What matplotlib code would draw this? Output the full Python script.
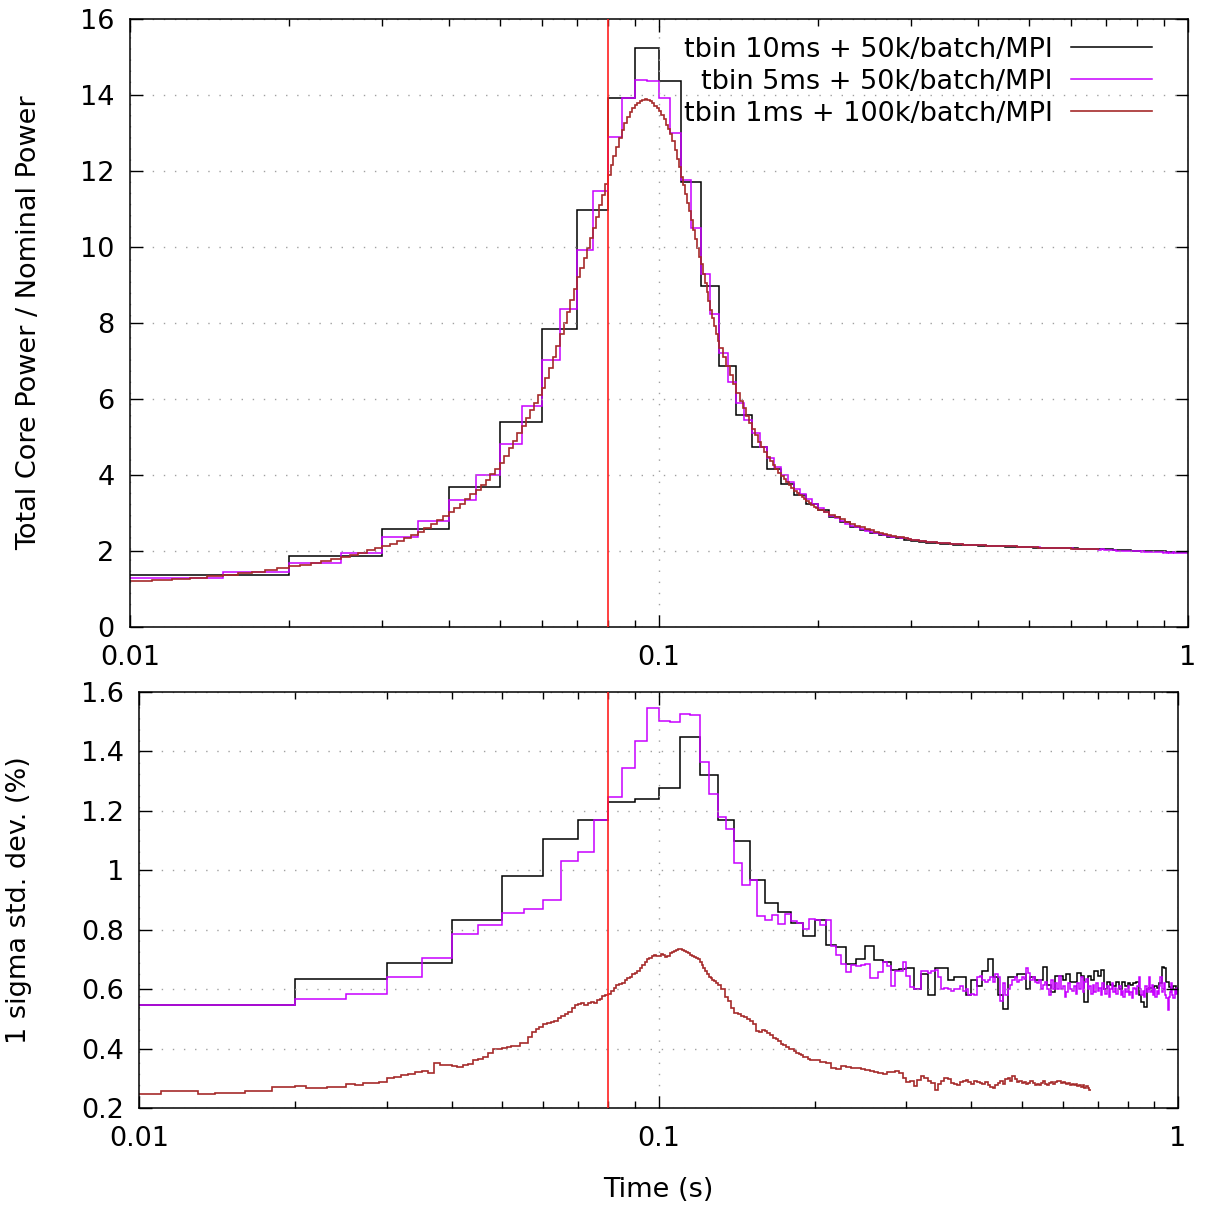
import numpy as np
import matplotlib
matplotlib.use('Agg')
import matplotlib.pyplot as plt
from matplotlib.ticker import LogLocator, NullFormatter

# ---- data ----
labels = ['tbin 10ms + 50k/batch/MPI', 'tbin 5ms + 50k/batch/MPI', 'tbin 1ms + 100k/batch/MPI']
t_mark = 0.08

# bin edges in seconds
edges_10ms = np.arange(10, 1001, 10) / 1000
edges_5ms = np.arange(10, 1001, 5) / 1000
edges_1ms = np.concatenate([np.arange(10, 130), np.arange(130, 200, 2), np.arange(200, 681, 5)]) / 1000

# top: total core power / nominal power
pow_10ms = [
    1.38, 1.87, 2.57, 3.69, 5.40, 7.84, 10.97, 13.93, 15.23, 14.38,
    11.72, 8.97, 6.87, 5.58, 4.74, 4.16, 3.76, 3.47, 3.24, 3.08,
    2.90, 2.77, 2.64, 2.55, 2.48, 2.43, 2.38, 2.34, 2.30, 2.27,
    2.24, 2.22, 2.20, 2.19, 2.18, 2.17, 2.16, 2.15, 2.15, 2.14,
    2.13, 2.13, 2.12, 2.12, 2.11, 2.11, 2.11, 2.10, 2.10, 2.10,
    2.09, 2.09, 2.09, 2.09, 2.08, 2.08, 2.08, 2.08, 2.07, 2.07,
    2.07, 2.06, 2.06, 2.06, 2.06, 2.05, 2.05, 2.05, 2.04, 2.04,
    2.04, 2.03, 2.03, 2.03, 2.02, 2.02, 2.02, 2.01, 2.01, 2.01,
    2.01, 2.00, 2.00, 2.00, 2.00, 1.99, 1.99, 1.99, 1.99, 1.99,
    1.98, 1.98, 1.98, 1.98, 1.98, 1.97, 1.97, 1.97, 1.97]

pow_5ms = [
    1.28, 1.46, 1.69, 1.96, 2.36, 2.80, 3.34, 4.00, 4.82, 5.82,
    7.04, 8.36, 9.93, 11.48, 12.90, 13.93, 14.39, 14.37, 13.93, 13.01,
    11.76, 10.50, 9.30, 8.25, 7.20, 6.46, 5.89, 5.45, 5.10, 4.74,
    4.45, 4.22, 4.00, 3.82, 3.63, 3.50, 3.36, 3.24, 3.13, 3.03,
    2.93, 2.86, 2.78, 2.72, 2.66, 2.62, 2.57, 2.53, 2.50, 2.47,
    2.44, 2.42, 2.40, 2.38, 2.36, 2.34, 2.33, 2.31, 2.30, 2.28,
    2.27, 2.26, 2.25, 2.24, 2.23, 2.22, 2.21, 2.21, 2.20, 2.19,
    2.19, 2.18, 2.18, 2.17, 2.17, 2.16, 2.16, 2.16, 2.15, 2.15,
    2.15, 2.14, 2.14, 2.14, 2.13, 2.13, 2.13, 2.13, 2.12, 2.12,
    2.12, 2.12, 2.12, 2.11, 2.11, 2.11, 2.11, 2.11, 2.10, 2.10,
    2.10, 2.10, 2.10, 2.09, 2.09, 2.09, 2.09, 2.09, 2.09, 2.08,
    2.08, 2.08, 2.08, 2.08, 2.07, 2.07, 2.07, 2.07, 2.07, 2.06,
    2.06, 2.06, 2.06, 2.06, 2.05, 2.05, 2.05, 2.05, 2.05, 2.04,
    2.04, 2.04, 2.04, 2.03, 2.03, 2.05, 2.04, 2.03, 2.03, 2.03,
    2.02, 2.02, 2.02, 2.02, 2.01, 2.01, 2.01, 2.01, 2.01, 2.00,
    2.00, 2.00, 2.00, 2.00, 1.99, 2.00, 1.99, 1.99, 1.99, 1.99,
    1.99, 1.98, 1.99, 1.98, 1.98, 1.98, 1.98, 1.98, 1.97, 1.98,
    1.97, 1.97, 1.98, 1.97, 1.97, 1.97, 1.97, 1.96, 1.97, 1.97,
    1.96, 1.97, 1.96, 1.96, 1.96, 1.97, 1.96, 1.96, 1.96, 1.96,
    1.96, 1.95, 1.96, 1.96, 1.95, 1.96, 1.96, 1.96]

pow_1ms = [
    1.22, 1.24, 1.27, 1.30, 1.33, 1.37, 1.41, 1.45, 1.50, 1.55,
    1.60, 1.64, 1.69, 1.74, 1.79, 1.85, 1.90, 1.96, 2.02, 2.07,
    2.12, 2.18, 2.26, 2.34, 2.42, 2.51, 2.60, 2.70, 2.81, 2.92,
    3.03, 3.14, 3.25, 3.37, 3.49, 3.61, 3.74, 3.88, 4.02, 4.16,
    4.31, 4.50, 4.70, 4.90, 5.10, 5.30, 5.50, 5.70, 5.90, 6.10,
    6.30, 6.56, 6.82, 7.10, 7.40, 7.70, 8.00, 8.30, 8.60, 8.90,
    9.20, 9.46, 9.72, 9.98, 10.24, 10.50, 10.80, 11.10, 11.38, 11.65,
    11.90, 12.15, 12.40, 12.64, 12.88, 13.08, 13.26, 13.42, 13.55, 13.65,
    13.74, 13.80, 13.85, 13.88, 13.90, 13.88, 13.84, 13.78, 13.71, 13.66,
    13.58, 13.48, 13.36, 13.22, 13.10, 12.97, 12.78, 12.56, 12.33, 12.10,
    11.85, 11.62, 11.40, 11.17, 10.94, 10.71, 10.46, 10.22, 9.98, 9.74,
    9.55, 9.30, 9.06, 8.82, 8.58, 8.35, 8.13, 7.92, 7.72, 7.52,
    # 2 ms steps from 0.130
    7.35, 7.10, 6.88, 6.64, 6.40, 6.17, 5.96, 5.76, 5.56, 5.38,
    5.20, 5.04, 4.88, 4.74, 4.60, 4.48, 4.37, 4.26, 4.16, 4.06,
    3.97, 3.89, 3.81, 3.73, 3.66, 3.59, 3.53, 3.47, 3.41, 3.36,
    3.31, 3.26, 3.21, 3.17, 3.13,
    # 5 ms steps from 0.200
    3.09, 3.02, 2.95, 2.89, 2.83, 2.77, 2.72, 2.67, 2.62, 2.58,
    2.54, 2.51, 2.48, 2.45, 2.42, 2.40, 2.38, 2.36, 2.34, 2.32,
    2.30, 2.29, 2.27, 2.26, 2.25, 2.24, 2.23, 2.22, 2.21, 2.21,
    2.20, 2.19, 2.19, 2.18, 2.18, 2.17, 2.17, 2.16, 2.16, 2.16,
    2.15, 2.15, 2.15, 2.14, 2.14, 2.14, 2.13, 2.13, 2.13, 2.13,
    2.12, 2.12, 2.12, 2.12, 2.12, 2.11, 2.11, 2.11, 2.11, 2.11,
    2.10, 2.10, 2.10, 2.10, 2.09, 2.09, 2.09, 2.09, 2.09, 2.09,
    2.08, 2.08, 2.08, 2.08, 2.08, 2.07, 2.07, 2.07, 2.07, 2.07,
    2.06, 2.06, 2.06, 2.06, 2.06, 2.05, 2.05, 2.05, 2.05, 2.05,
    2.05, 2.04, 2.04, 2.04, 2.04, 2.04]

# bottom: 1 sigma std. dev. (%)
sig_10ms = [
    0.545, 0.634, 0.688, 0.834, 0.980, 1.105, 1.170, 1.231, 1.240, 1.276,
    1.450, 1.320, 1.168, 1.098, 0.968, 0.889, 0.858, 0.824, 0.779, 0.833,
    0.748, 0.742, 0.684, 0.703, 0.746, 0.697, 0.690, 0.665, 0.669, 0.670,
    0.600, 0.650, 0.580, 0.670, 0.670, 0.630, 0.640, 0.640, 0.580, 0.630,
    0.610, 0.660, 0.700, 0.640, 0.580, 0.534, 0.640, 0.640, 0.650, 0.650,
    0.600, 0.640, 0.630, 0.630, 0.673, 0.615, 0.590, 0.645, 0.645, 0.630,
    0.650, 0.625, 0.625, 0.655, 0.645, 0.557, 0.645, 0.630, 0.660, 0.645,
    0.665, 0.600, 0.625, 0.615, 0.610, 0.625, 0.600, 0.625, 0.610, 0.620,
    0.615, 0.620, 0.625, 0.580, 0.555, 0.540, 0.600, 0.605, 0.595, 0.610,
    0.605, 0.620, 0.676, 0.670, 0.625, 0.607, 0.600, 0.610, 0.600]

sig_5ms = [
    0.545, 0.548, 0.567, 0.584, 0.640, 0.704, 0.784, 0.815, 0.857, 0.871,
    0.900, 1.031, 1.063, 1.168, 1.246, 1.344, 1.434, 1.546, 1.504, 1.499,
    1.527, 1.523, 1.366, 1.258, 1.180, 1.140, 1.023, 0.949, 0.967, 0.846,
    0.833, 0.849, 0.819, 0.852, 0.830, 0.824, 0.802, 0.835, 0.833, 0.815,
    0.833, 0.746, 0.714, 0.684, 0.659, 0.680, 0.678, 0.680, 0.684, 0.636,
    0.639, 0.658, 0.690, 0.678, 0.609, 0.662, 0.662, 0.690, 0.645, 0.606,
    0.600, 0.600, 0.660, 0.660, 0.655, 0.660, 0.665, 0.640, 0.600, 0.605,
    0.600, 0.595, 0.600, 0.600, 0.610, 0.595, 0.600, 0.580, 0.585, 0.580,
    0.640, 0.645, 0.630, 0.625, 0.630, 0.640, 0.625, 0.650, 0.640, 0.560,
    0.620, 0.580, 0.600, 0.615, 0.630, 0.640, 0.625, 0.630, 0.640, 0.635,
    0.670, 0.655, 0.630, 0.640, 0.625, 0.620, 0.630, 0.600, 0.615, 0.625,
    0.600, 0.580, 0.630, 0.600, 0.620, 0.600, 0.645, 0.600, 0.610, 0.575,
    0.590, 0.620, 0.600, 0.595, 0.610, 0.585, 0.620, 0.600, 0.640, 0.590,
    0.625, 0.635, 0.600, 0.610, 0.585, 0.615, 0.590, 0.620, 0.595, 0.605,
    0.580, 0.620, 0.600, 0.585, 0.610, 0.575, 0.600, 0.620, 0.590, 0.605,
    0.585, 0.600, 0.610, 0.580, 0.595, 0.575, 0.600, 0.590, 0.610, 0.580,
    0.590, 0.570, 0.605, 0.600, 0.585, 0.610, 0.640, 0.600, 0.580, 0.595,
    0.575, 0.610, 0.590, 0.600, 0.640, 0.590, 0.615, 0.580, 0.600, 0.575,
    0.595, 0.585, 0.610, 0.640, 0.590, 0.600, 0.620, 0.580, 0.570, 0.530,
    0.575, 0.590, 0.620, 0.580, 0.570, 0.600, 0.585, 0.605]

sig_1ms = [
    0.247, 0.258, 0.258, 0.247, 0.251, 0.251, 0.258, 0.258, 0.271, 0.271,
    0.274, 0.268, 0.268, 0.272, 0.272, 0.280, 0.276, 0.285, 0.285, 0.287,
    0.300, 0.304, 0.311, 0.315, 0.322, 0.326, 0.318, 0.350, 0.345, 0.345,
    0.340, 0.338, 0.343, 0.348, 0.360, 0.366, 0.372, 0.385, 0.397, 0.400,
    0.403, 0.405, 0.408, 0.410, 0.418, 0.420, 0.438, 0.455, 0.466, 0.474,
    0.482, 0.486, 0.490, 0.494, 0.502, 0.510, 0.516, 0.522, 0.535, 0.545,
    0.550, 0.552, 0.548, 0.553, 0.556, 0.553, 0.562, 0.568, 0.576, 0.580,
    0.584, 0.595, 0.605, 0.614, 0.618, 0.622, 0.630, 0.636, 0.642, 0.650,
    0.655, 0.662, 0.672, 0.680, 0.690, 0.700, 0.705, 0.712, 0.714, 0.710,
    0.712, 0.718, 0.715, 0.708, 0.712, 0.720, 0.725, 0.728, 0.732, 0.735,
    0.734, 0.731, 0.729, 0.726, 0.720, 0.715, 0.712, 0.708, 0.706, 0.700,
    0.690, 0.680, 0.670, 0.660, 0.650, 0.642, 0.638, 0.632, 0.626, 0.622,
    # 2 ms steps from 0.130
    0.615, 0.600, 0.575, 0.560, 0.535, 0.520, 0.515, 0.510, 0.505, 0.498,
    0.493, 0.482, 0.458, 0.454, 0.462, 0.460, 0.452, 0.445, 0.437, 0.432,
    0.425, 0.415, 0.412, 0.405, 0.400, 0.400, 0.392, 0.385, 0.381, 0.378,
    0.372, 0.370, 0.366, 0.362, 0.360,
    # 5 ms steps from 0.200
    0.360, 0.355, 0.350, 0.335, 0.330, 0.342, 0.338, 0.333, 0.336, 0.330,
    0.328, 0.325, 0.322, 0.319, 0.315, 0.320, 0.322, 0.325, 0.318, 0.300,
    0.286, 0.292, 0.273, 0.295, 0.307, 0.300, 0.292, 0.283, 0.261, 0.280,
    0.290, 0.300, 0.296, 0.285, 0.280, 0.278, 0.286, 0.290, 0.295, 0.288,
    0.282, 0.290, 0.286, 0.284, 0.279, 0.288, 0.276, 0.270, 0.267, 0.278,
    0.284, 0.290, 0.280, 0.296, 0.300, 0.292, 0.307, 0.298, 0.288, 0.292,
    0.284, 0.288, 0.280, 0.285, 0.290, 0.283, 0.276, 0.280, 0.278, 0.285,
    0.290, 0.282, 0.276, 0.284, 0.288, 0.280, 0.286, 0.292, 0.290, 0.284,
    0.288, 0.285, 0.280, 0.284, 0.278, 0.282, 0.276, 0.280, 0.273, 0.276,
    0.270, 0.278, 0.268, 0.274, 0.266, 0.262]

colors = ['black', '#c800ff', '#a52a2a']
fs = 19.5
plt.rcParams['font.family'] = ['DejaVu Sans']
plt.rcParams['font.size'] = fs

fig = plt.figure(figsize=(12.05, 12.06), dpi=100)
ax1 = fig.add_axes([0.1079, 0.4801, 0.878, 0.5041])
ax2 = fig.add_axes([0.1154, 0.0813, 0.8622, 0.3449])

ax1.stairs(pow_10ms, edges_10ms, baseline=None, color=colors[0], lw=1.1, label=labels[0])
ax1.stairs(pow_5ms, edges_5ms, baseline=None, color=colors[1], lw=1.1, label=labels[1])
ax1.stairs(pow_1ms, edges_1ms, baseline=None, color=colors[2], lw=1.2, label=labels[2])

ax2.stairs(sig_10ms, edges_10ms, baseline=None, color=colors[0], lw=1.1)
ax2.stairs(sig_5ms, edges_5ms, baseline=None, color=colors[1], lw=1.1)
ax2.stairs(sig_1ms, edges_1ms, baseline=None, color=colors[2], lw=1.2)

for ax in (ax1, ax2):
    ax.axvline(t_mark, color='#ff2020', lw=1.2, zorder=5)
    ax.set_xscale('log')
    ax.set_xlim(0.01, 1)
    ax.set_xticks([0.01, 0.1, 1], ['0.01', '0.1', '1'])
    ax.xaxis.set_minor_locator(LogLocator(base=10, subs=np.arange(2, 10)))
    ax.xaxis.set_minor_formatter(NullFormatter())
    ax.tick_params(which='both', direction='in', top=True, right=True, width=1.0)
    ax.tick_params(which='major', length=9, labelsize=fs)
    ax.tick_params(which='minor', length=5)
    ax.tick_params(axis='x', pad=13)
    ax.tick_params(axis='y', pad=11)
    ax.grid(True, which='major', color='#a0a0a0', lw=1.0, ls=(0, (1, 7)))
    for s in ax.spines.values():
        s.set_linewidth(1.1)

ax1.set_ylim(0, 16)
ax1.set_yticks(np.arange(0, 17, 2))
ax1.set_ylabel('Total Core Power / Nominal Power', fontsize=fs)
ax1.yaxis.set_label_coords(-0.083, 0.5)

ax2.set_ylim(0.2, 1.6)
ax2.set_yticks([0.2, 0.4, 0.6, 0.8, 1.0, 1.2, 1.4, 1.6],
               ['0.2', '0.4', '0.6', '0.8', '1', '1.2', '1.4', '1.6'])
ax2.set_ylabel('1 sigma std. dev. (%)', fontsize=fs)
ax2.yaxis.set_label_coords(-0.103, 0.5)
ax2.set_xlabel('Time (s)', fontsize=fs)
ax2.xaxis.set_label_coords(0.5, -0.165)

ax1.legend(loc='upper right', bbox_to_anchor=(0.966, 0.971), frameon=False,
           markerfirst=False, handlelength=3.0, handletextpad=0.66,
           labelspacing=0.22, borderaxespad=0, borderpad=0, fontsize=fs)

fig.savefig('out.png', dpi=100)
